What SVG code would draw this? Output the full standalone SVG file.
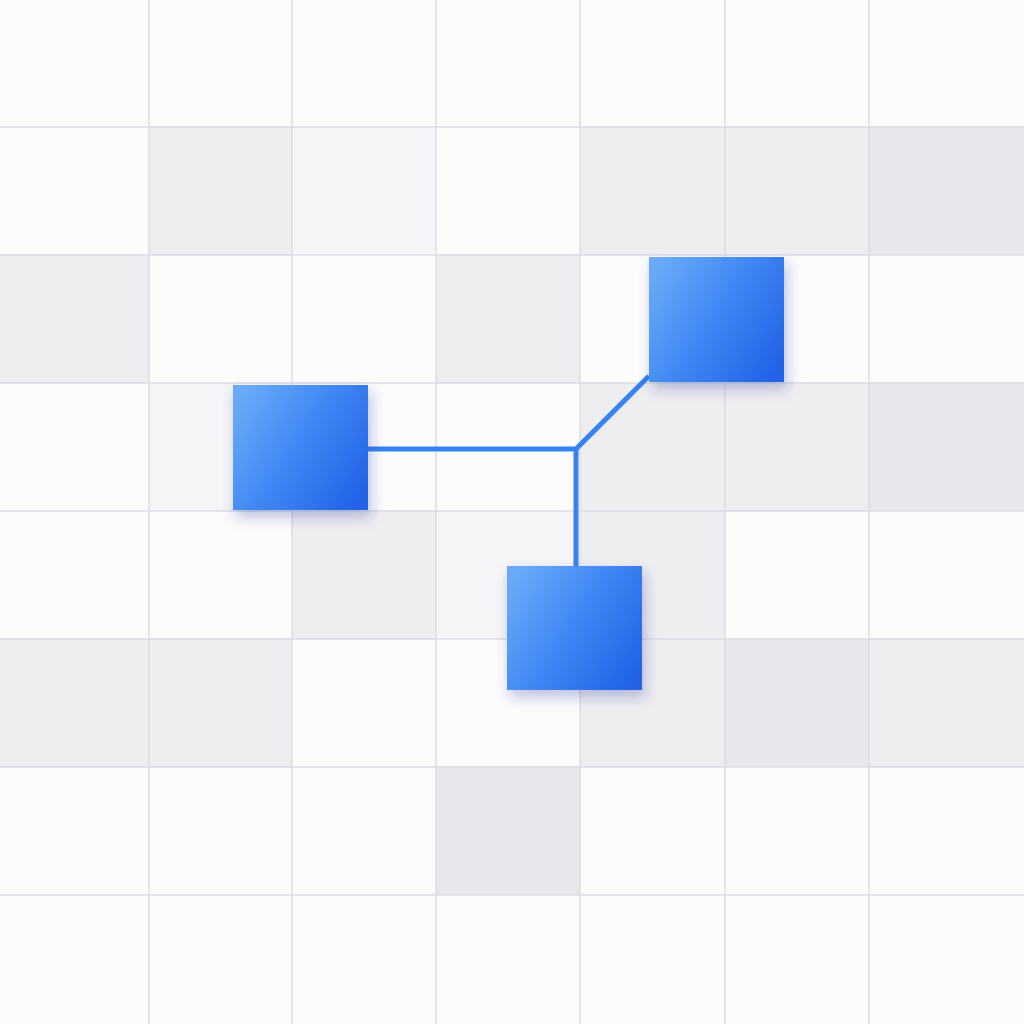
<svg xmlns="http://www.w3.org/2000/svg" width="1024" height="1024" viewBox="0 0 1024 1024">
<defs>
<linearGradient id="blue" x1="0" y1="0.2" x2="1" y2="0.8">
<stop offset="0" stop-color="#67aaf9"/>
<stop offset="0.45" stop-color="#4289f4"/>
<stop offset="1" stop-color="#2164e8"/>
</linearGradient>
<filter id="sh2" x="-30%" y="-30%" width="160%" height="170%">
<feGaussianBlur in="SourceAlpha" stdDeviation="7" result="b"/>
<feOffset in="b" dx="3" dy="7" result="o"/>
<feFlood flood-color="#28309a" flood-opacity="0.3"/>
<feComposite in2="o" operator="in" result="s"/>
<feMerge><feMergeNode in="s"/><feMergeNode in="SourceGraphic"/></feMerge>
</filter>
</defs>
<style>
.w{fill:#fcfcfd}.l{fill:#f5f5f7}.m{fill:#eeeef1}.d{fill:#e8e8ec}
.g{stroke:#dcdce3;stroke-width:1.5;fill:none}
.node{fill:url(#blue);filter:url(#sh2)}
.edge{stroke:#3582f0;stroke-width:5;fill:none;stroke-linejoin:round}
</style>
<rect x="0" y="0" width="1024" height="1024" class="w"/>
<g id="cells">
<rect x="149" y="127" width="143" height="128" class="m"/>
<rect x="292" y="127" width="144" height="128" class="l"/>
<rect x="580" y="127" width="145" height="128" class="m"/>
<rect x="725" y="127" width="144" height="128" class="m"/>
<rect x="869" y="127" width="155" height="128" class="d"/>
<rect x="0" y="255" width="149" height="128" class="m"/>
<rect x="436" y="255" width="144" height="128" class="m"/>
<rect x="149" y="383" width="143" height="128" class="l"/>
<rect x="580" y="383" width="145" height="128" class="m"/>
<rect x="725" y="383" width="144" height="128" class="m"/>
<rect x="869" y="383" width="155" height="128" class="d"/>
<rect x="292" y="511" width="144" height="128" class="m"/>
<rect x="436" y="511" width="144" height="128" class="l"/>
<rect x="580" y="511" width="145" height="128" class="m"/>
<rect x="0" y="639" width="149" height="128" class="m"/>
<rect x="149" y="639" width="143" height="128" class="m"/>
<rect x="580" y="639" width="145" height="128" class="m"/>
<rect x="725" y="639" width="144" height="128" class="d"/>
<rect x="869" y="639" width="155" height="128" class="m"/>
<rect x="436" y="767" width="144" height="128" class="d"/>
</g>
<g id="grid" class="g">
<path d="M149 0V1024M292 0V1024M436 0V1024M580 0V1024M725 0V1024M869 0V1024"/>
<path d="M0 127H1024M0 255H1024M0 383H1024M0 511H1024M0 639H1024M0 767H1024M0 895H1024"/>
</g>
<g id="connectors" class="edge">
<path d="M368 449H576"/>
<path d="M576 449L649 376"/>
<path d="M576 449V566"/>
</g>
<g id="node-a"><rect x="233" y="385" width="135" height="125" class="node"/></g>
<g id="node-b"><rect x="649" y="257" width="135" height="125" class="node"/></g>
<g id="node-c"><rect x="507" y="566" width="135" height="124" class="node"/></g>
</svg>
